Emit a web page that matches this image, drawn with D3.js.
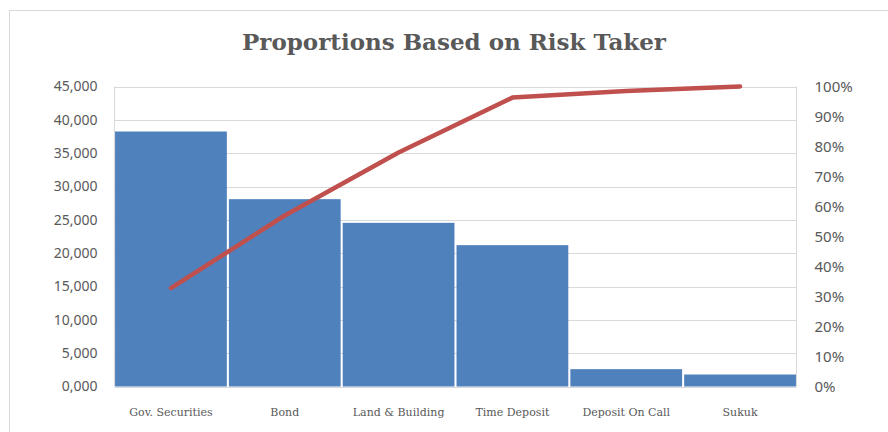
<!DOCTYPE html>
<html>
<head>
<meta charset="utf-8">
<script src="https://cdn.jsdelivr.net/npm/d3@7"></script>
<style>
  html, body { margin: 0; padding: 0; background: #fff; }
  svg { display: block; }
</style>
</head>
<body>
<svg id="chart"></svg>
<script>
(function () {
    'use strict';

    /* Data */

    var categories = ['Gov. Securities', 'Bond', 'Land & Building', 'Time Deposit', 'Deposit On Call', 'Sukuk'];
    var amounts = [38250, 28100, 24550, 21200, 2600, 1800];
    var cumulative = [0.328, 0.570, 0.780, 0.963, 0.985, 1.0];
    var leftTicks = [0, 5000, 10000, 15000, 20000, 25000, 30000, 35000, 40000, 45000];
    var rightTicks = [0, 0.1, 0.2, 0.3, 0.4, 0.5, 0.6, 0.7, 0.8, 0.9, 1.0];

    /* Setup SVG */

    var width = 888,
        height = 432,
        left = 114.5,
        right = 796.5,
        top = 86.5,
        bottom = 386.5;

    var svg = d3.select('#chart')
        .attr('width', width)
        .attr('height', height);

    // chart border (right/bottom edges run off the picture)
    svg.append('rect')
        .attr('x', 9.5).attr('y', 10.5)
        .attr('width', 900).attr('height', 440)
        .attr('fill', 'none')
        .attr('stroke', '#d9d9d9');

    svg.append('text')
        .attr('x', 454).attr('y', 50)
        .attr('text-anchor', 'middle')
        .style('font-family', '"DejaVu Serif", serif')
        .style('font-weight', 'bold')
        .style('font-size', '23px')
        .style('fill', '#595959')
        .text('Proportions Based on Risk Taker');

    /* Scales */

    var x = d3.scaleBand().domain(categories).range([left, right]).paddingInner(0.018).paddingOuter(0.005);
    var y = d3.scaleLinear().domain([0, 45000]).range([bottom, top]);
    var y2 = d3.scaleLinear().domain([0, 1]).range([bottom, top]);

    /* Gridlines */

    svg.append('g')
        .selectAll('line')
        .data(leftTicks)
        .join('line')
        .attr('x1', left).attr('x2', right)
        .attr('y1', function (d) { return Math.round(y(d)) + 0.5; })
        .attr('y2', function (d) { return Math.round(y(d)) + 0.5; })
        .attr('stroke', '#d9d9d9')
        .attr('stroke-width', 1);

    svg.append('line')
        .attr('x1', left).attr('x2', left)
        .attr('y1', top).attr('y2', bottom)
        .attr('stroke', '#d9d9d9');
    svg.append('line')
        .attr('x1', right).attr('x2', right)
        .attr('y1', top).attr('y2', bottom)
        .attr('stroke', '#d9d9d9');

    /* Bars */

    svg.append('g')
        .selectAll('rect')
        .data(amounts)
        .join('rect')
        .attr('x', function (d, i) { return x(categories[i]); })
        .attr('width', x.bandwidth())
        .attr('y', function (d) { return y(d); })
        .attr('height', function (d) { return y(0) - y(d); })
        .attr('fill', '#4f81bd');

    /* Cumulative line */

    var line = d3.line()
        .x(function (d, i) { return x(categories[i]) + x.bandwidth() / 2; })
        .y(function (d) { return y2(d); });

    svg.append('path')
        .datum(cumulative)
        .attr('d', line)
        .attr('fill', 'none')
        .attr('stroke', '#c0504d')
        .attr('stroke-width', 4.5)
        .attr('stroke-linecap', 'round')
        .attr('stroke-linejoin', 'round');

    /* Axes */

    var fmtLeft = function (d) { return d3.format(',')(Math.floor(d / 1000)) + ',' + d3.format('03d')(d % 1000); };

    var yAxis = d3.axisLeft(y).tickValues(leftTicks).tickSize(0).tickPadding(17).tickFormat(fmtLeft);
    var gy = svg.append('g').attr('transform', 'translate(' + left + ',0)').call(yAxis);
    gy.select('.domain').remove();
    gy.selectAll('text')
        .style('font-family', '"Noto Sans", sans-serif')
        .style('font-size', '14px')
        .style('fill', '#595959');

    var yAxis2 = d3.axisRight(y2).tickValues(rightTicks).tickSize(0).tickPadding(18).tickFormat(d3.format('.0%'));
    var gy2 = svg.append('g').attr('transform', 'translate(' + right + ',0)').call(yAxis2);
    gy2.select('.domain').remove();
    gy2.selectAll('text')
        .style('font-family', '"Noto Sans", sans-serif')
        .style('font-size', '15px')
        .style('fill', '#595959');

    var xAxis = d3.axisBottom(x).tickSize(0).tickPadding(22);
    var gx = svg.append('g').attr('transform', 'translate(0,' + bottom + ')').call(xAxis);
    gx.select('.domain').remove();
    gx.selectAll('text')
        .style('font-family', '"DejaVu Serif", serif')
        .style('font-size', '11px')
        .style('fill', '#595959');

})()
</script>
</body>
</html>
